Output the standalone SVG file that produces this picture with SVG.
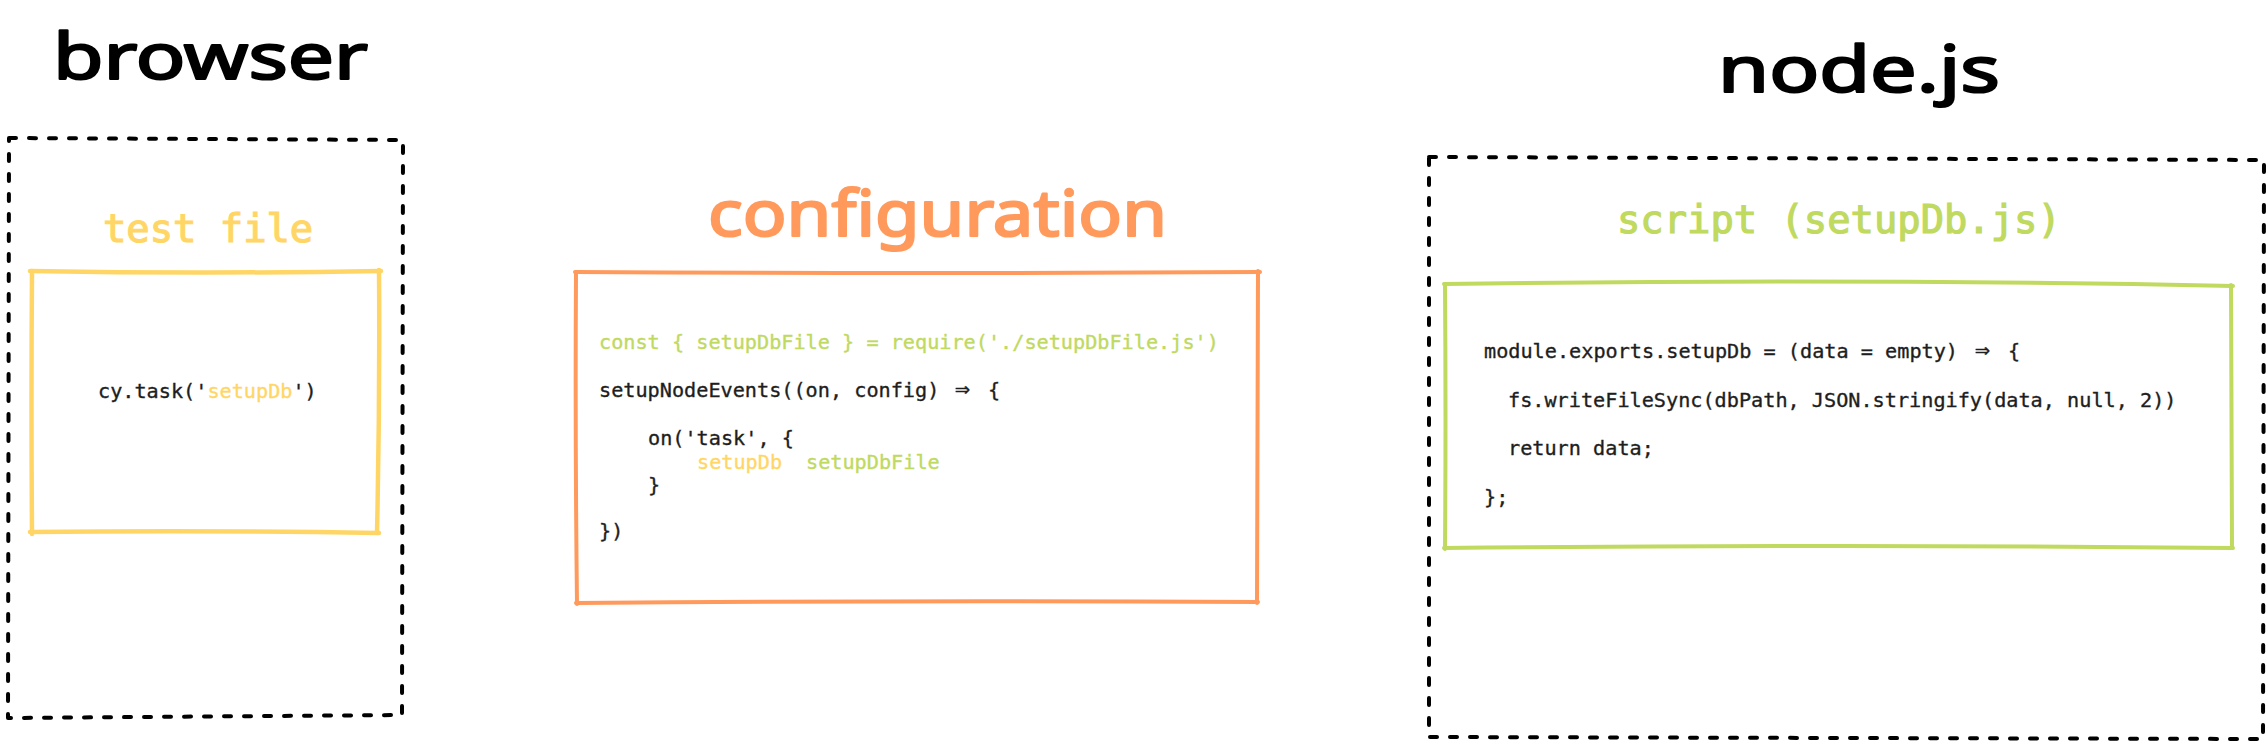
<svg xmlns="http://www.w3.org/2000/svg" width="2268" height="746" viewBox="0 0 2268 746">
<style>
.hand{font-family:"Noto Sans","Lato",sans-serif;font-weight:400;font-size:64px;stroke-width:2.2;stroke-linejoin:round;stroke-linecap:round}
.code{font-family:"DejaVu Sans Mono","Liberation Mono",monospace;font-size:20.2px;fill:#1e1e1e;stroke:#1e1e1e;stroke-width:0.35}
.title{font-family:"DejaVu Sans Mono","Liberation Mono",monospace;font-size:38.8px;stroke-width:1.2}
.arr{font-size:25px}
.dash{fill:none;stroke:#000;stroke-width:4;stroke-dasharray:7 13;stroke-linecap:round;stroke-linejoin:round}
.sk{fill:none;stroke-width:4.5;stroke-linecap:round}
.y{fill:#ffd666;stroke:#ffd666}
.g{fill:#c0d95f;stroke:#c0d95f}
.o{fill:#ff9a5c}
</style>
<rect width="2268" height="746" fill="#fff"/>

<g id="browser">
  <text class="hand" x="53" y="79" textLength="315" lengthAdjust="spacingAndGlyphs" fill="#000" stroke="#000">browser</text>
  <path class="dash" d="M9,138 L403,140 L402,715 L8,718 Z"/>
</g>

<g id="test-file">
  <text class="title y" x="103" y="242">test file</text>
  <g stroke="#ffd666" class="sk">
    <path d="M30,271 Q205,274 381,271"/>
    <path d="M379,270 Q380,400 377,533"/>
    <path d="M379,533 Q205,530 30,532"/>
    <path d="M32,534 Q31,400 32,271"/>
  </g>
  <text class="code" x="98" y="398">cy.task('<tspan class="y">setupDb</tspan>')</text>
</g>

<g id="configuration">
  <text class="hand" x="708" y="236" textLength="459" lengthAdjust="spacingAndGlyphs" fill="#ff9a5c" stroke="#ff9a5c">configuration</text>
  <g stroke="#ff9a5c" class="sk" style="stroke-width:4">
    <path d="M575,272 Q917,274 1260,272"/>
    <path d="M1258,271 Q1257,437 1257,603"/>
    <path d="M1258,602 Q917,600 576,603"/>
    <path d="M577,604 Q575,437 576,273"/>
  </g>
  <text class="code g" x="599" y="349">const { setupDbFile } = require('./setupDbFile.js')</text>
  <text class="code" x="599" y="397">setupNodeEvents((on, config)<tspan class="arr" x="955">⇒</tspan><tspan x="988">{</tspan></text>
  <text class="code" x="648" y="445">on('task', {</text>
  <text class="code" x="697" y="469"><tspan class="y">setupDb</tspan><tspan class="g" x="806">setupDbFile</tspan></text>
  <text class="code" x="648" y="492">}</text>
  <text class="code" x="599" y="538">})</text>
</g>

<g id="nodejs">
  <text class="hand" x="1718" y="92" textLength="282" lengthAdjust="spacingAndGlyphs" fill="#000" stroke="#000">node.js</text>
  <path class="dash" d="M1429,157 L2264,160 L2263,739 L1429,737 Z"/>
</g>

<g id="script">
  <text class="title g" x="1617" y="233">script (setupDb.js)</text>
  <g stroke="#c0d95f" class="sk" style="stroke-width:4">
    <path d="M1444,284 Q1838,278 2233,286"/>
    <path d="M2231,285 Q2232,416 2232,548"/>
    <path d="M2233,548 Q1838,544 1444,548"/>
    <path d="M1445,549 Q1446,416 1445,284"/>
  </g>
  <text class="code" x="1484" y="358">module.exports.setupDb = (data = empty)<tspan class="arr" x="1975">⇒</tspan><tspan x="2008">{</tspan></text>
  <text class="code" x="1508" y="406.5">fs.writeFileSync(dbPath, JSON.stringify(data, null, 2))</text>
  <text class="code" x="1508" y="455">return data;</text>
  <text class="code" x="1484" y="503.5">};</text>
</g>

<g id="connectors"></g>
</svg>
